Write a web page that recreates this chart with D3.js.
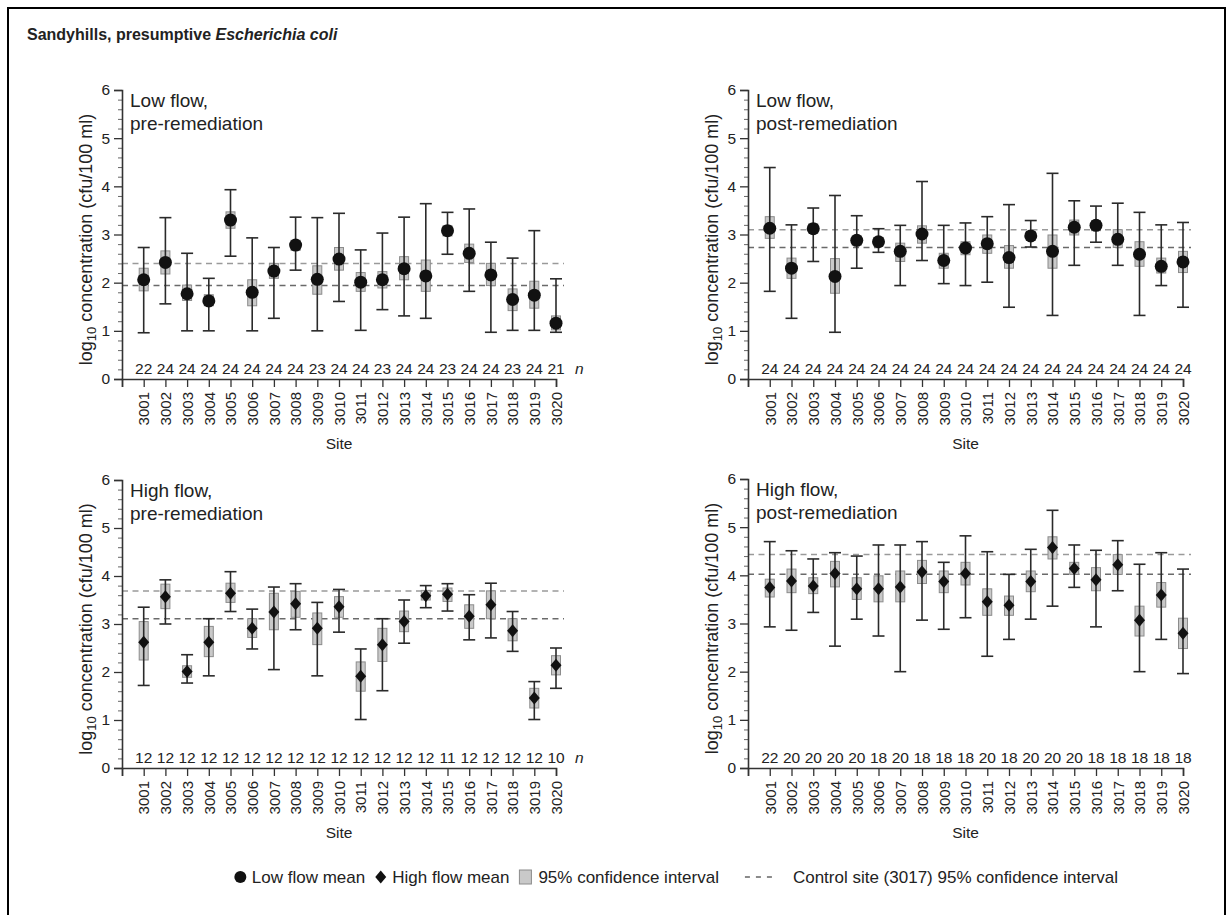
<!DOCTYPE html>
<html>
<head>
<meta charset="utf-8">
<script src="https://cdn.jsdelivr.net/npm/d3@7"></script>
<style>
  body { margin: 0; background: #fff; }
  svg text { font-family: "Liberation Sans", Arial, sans-serif; fill: #222; }
</style>
</head>
<body>
<svg id="chart" width="1231" height="915"></svg>
<script>
const sites = [3001, 3002, 3003, 3004, 3005, 3006, 3007, 3008, 3009, 3010,
               3011, 3012, 3013, 3014, 3015, 3016, 3017, 3018, 3019, 3020];
const controlSite = 3017;
const yTicks = [0, 1, 2, 3, 4, 5, 6];

// Low flow, pre-remediation
const lowPreMean = [2.06, 2.42, 1.77, 1.62, 3.30, 1.80, 2.24, 2.78, 2.07, 2.49, 2.01, 2.06, 2.29, 2.14, 3.08, 2.61, 2.16, 1.65, 1.74, 1.16];
const lowPreCiLo = [1.83, 2.18, 1.63, 1.52, 3.13, 1.52, 2.09, 2.67, 1.76, 2.26, 1.82, 1.89, 2.06, 1.82, 2.97, 2.42, 1.94, 1.42, 1.47, 1.02];
const lowPreCiHi = [2.30, 2.66, 1.95, 1.75, 3.47, 2.06, 2.40, 2.88, 2.35, 2.73, 2.21, 2.23, 2.54, 2.47, 3.18, 2.80, 2.40, 1.87, 2.03, 1.31];
const lowPreMin  = [0.96, 1.56, 1.00, 1.00, 2.55, 1.00, 1.26, 2.26, 1.00, 1.61, 1.01, 1.44, 1.31, 1.26, 2.59, 1.82, 0.97, 1.01, 1.01, 0.97];
const lowPreMax  = [2.73, 3.35, 2.61, 2.09, 3.93, 2.93, 2.73, 3.36, 3.35, 3.44, 2.68, 3.03, 3.36, 3.64, 3.46, 3.53, 2.84, 2.51, 3.08, 2.08];
const lowPreN    = [22, 24, 24, 24, 24, 24, 24, 24, 23, 24, 24, 23, 24, 24, 23, 24, 24, 23, 24, 21];

// Low flow, post-remediation
const lowPostMean = [3.13, 2.30, 3.12, 2.13, 2.88, 2.85, 2.65, 3.01, 2.46, 2.72, 2.81, 2.52, 2.97, 2.65, 3.15, 3.19, 2.90, 2.59, 2.34, 2.43];
const lowPostCiLo = [2.92, 2.09, 3.03, 1.78, 2.78, 2.76, 2.44, 2.82, 2.30, 2.58, 2.61, 2.30, 2.88, 2.30, 2.99, 3.08, 2.73, 2.34, 2.20, 2.21];
const lowPostCiHi = [3.37, 2.51, 3.22, 2.50, 2.97, 2.94, 2.82, 3.18, 2.61, 2.85, 2.99, 2.77, 3.06, 2.99, 3.30, 3.29, 3.10, 2.85, 2.51, 2.65];
const lowPostMin  = [1.82, 1.26, 2.44, 0.97, 2.30, 2.63, 1.94, 2.46, 1.98, 1.94, 2.01, 1.49, 2.74, 1.32, 2.36, 2.84, 2.36, 1.32, 1.94, 1.49];
const lowPostMax  = [4.39, 3.20, 3.55, 3.81, 3.39, 3.12, 3.19, 4.10, 3.19, 3.24, 3.37, 3.62, 3.29, 4.27, 3.70, 3.59, 3.65, 3.46, 3.20, 3.25];
const lowPostN    = [24, 24, 24, 24, 24, 24, 24, 24, 24, 24, 24, 24, 24, 24, 24, 24, 24, 24, 24, 24];

// High flow, pre-remediation
const highPreMean = [2.62, 3.57, 2.01, 2.62, 3.64, 2.91, 3.25, 3.42, 2.91, 3.36, 1.91, 2.57, 3.05, 3.59, 3.62, 3.16, 3.40, 2.86, 1.46, 2.14];
const highPreCiLo = [2.25, 3.32, 1.89, 2.32, 3.45, 2.72, 2.88, 3.14, 2.57, 3.14, 1.60, 2.22, 2.84, 3.50, 3.47, 2.91, 3.11, 2.65, 1.25, 1.94];
const highPreCiHi = [3.05, 3.83, 2.13, 2.95, 3.85, 3.11, 3.64, 3.68, 3.23, 3.57, 2.21, 2.91, 3.27, 3.70, 3.75, 3.40, 3.69, 3.11, 1.66, 2.34];
const highPreMin  = [1.72, 3.00, 1.77, 1.92, 3.26, 2.48, 2.05, 2.88, 1.92, 2.83, 1.01, 1.61, 2.60, 3.34, 3.27, 2.67, 2.71, 2.43, 1.01, 1.66];
const highPreMax  = [3.35, 3.92, 2.36, 3.11, 4.09, 3.31, 3.77, 3.84, 3.45, 3.72, 2.48, 3.11, 3.50, 3.80, 3.84, 3.61, 3.85, 3.26, 1.80, 2.50];
const highPreN    = [12, 12, 12, 12, 12, 12, 12, 12, 12, 12, 12, 12, 12, 12, 11, 12, 12, 12, 12, 10];

// High flow, post-remediation
const highPostMean = [3.75, 3.88, 3.78, 4.04, 3.72, 3.72, 3.76, 4.07, 3.87, 4.04, 3.45, 3.38, 3.87, 4.58, 4.14, 3.91, 4.22, 3.07, 3.59, 2.80];
const highPostCiLo = [3.55, 3.64, 3.62, 3.76, 3.50, 3.45, 3.45, 3.83, 3.64, 3.80, 3.17, 3.17, 3.66, 4.34, 4.02, 3.68, 4.02, 2.74, 3.34, 2.48];
const highPostCiHi = [3.92, 4.13, 3.95, 4.29, 3.95, 3.99, 4.09, 4.31, 4.09, 4.27, 3.72, 3.57, 4.09, 4.80, 4.27, 4.16, 4.43, 3.36, 3.85, 3.11];
const highPostMin  = [2.93, 2.86, 3.23, 2.53, 3.09, 2.74, 2.00, 3.07, 2.88, 3.12, 2.32, 2.67, 3.09, 3.36, 3.75, 2.93, 3.68, 2.00, 2.67, 1.96];
const highPostMax  = [4.70, 4.51, 4.34, 4.47, 4.40, 4.63, 4.63, 4.70, 4.27, 4.82, 4.49, 4.02, 4.54, 5.35, 4.63, 4.52, 4.72, 4.23, 4.47, 4.13];
const highPostN    = [22, 20, 20, 20, 20, 18, 20, 18, 18, 18, 20, 18, 20, 20, 20, 18, 18, 18, 18, 18];

const panels = [
  {title: ["Low flow,", "pre-remediation"], marker: "circle", showN: true,
   mean: lowPreMean, ciLo: lowPreCiLo, ciHi: lowPreCiHi, min: lowPreMin, max: lowPreMax, n: lowPreN,
   left: 122, right: 556, top: 90, bottom: 379},
  {title: ["Low flow,", "post-remediation"], marker: "circle", showN: false,
   mean: lowPostMean, ciLo: lowPostCiLo, ciHi: lowPostCiHi, min: lowPostMin, max: lowPostMax, n: lowPostN,
   left: 748, right: 1183, top: 90, bottom: 379},
  {title: ["High flow,", "pre-remediation"], marker: "diamond", showN: true,
   mean: highPreMean, ciLo: highPreCiLo, ciHi: highPreCiHi, min: highPreMin, max: highPreMax, n: highPreN,
   left: 122, right: 556, top: 480, bottom: 768},
  {title: ["High flow,", "post-remediation"], marker: "diamond", showN: false,
   mean: highPostMean, ciLo: highPostCiLo, ciHi: highPostCiHi, min: highPostMin, max: highPostMax, n: highPostN,
   left: 748, right: 1183, top: 479, bottom: 768}
];

const AXIS = "#333";
const WHISKER = "#2a2a2a";
const BOX_FILL = "#c9c9c9";
const BOX_STROKE = "#8c8c8c";
const LABEL_SIZE = 15.5;

const diamondPath = (cx, cy) => `M${cx},${cy - 6.5}L${cx + 5.5},${cy}L${cx},${cy + 6.5}L${cx - 5.5},${cy}Z`;

const svg = d3.select("#chart");

svg.append("rect")
  .attr("x", 8).attr("y", 8)
  .attr("width", 1217).attr("height", 930)
  .attr("fill", "none")
  .attr("stroke", "#000")
  .attr("stroke-width", 2);

svg.append("text")
  .attr("x", 27).attr("y", 40)
  .attr("font-size", 16)
  .attr("font-weight", "bold")
  .text("Sandyhills, presumptive ")
  .append("tspan")
  .attr("font-style", "italic")
  .text("Escherichia coli");

const drawPanel = p => {
  const x = d3.scaleLinear().domain([3000, 3020]).range([p.left, p.right]);
  const y = d3.scaleLinear().domain([0, 6]).range([p.bottom, p.top]);
  const g = svg.append("g");
  const rows = sites.map((s, i) => ({
    site: s, mean: p.mean[i], lo: p.ciLo[i], hi: p.ciHi[i], min: p.min[i], max: p.max[i], n: p.n[i]
  }));

  // control site CI as dashed lines
  const c = rows.find(r => r.site === controlSite);
  g.selectAll(".ctrl")
    .data([c.hi, c.lo])
    .enter().append("line")
    .attr("x1", p.left).attr("x2", p.right + 8)
    .attr("y1", d => y(d)).attr("y2", d => y(d))
    .attr("stroke", (d, i) => i ? "#6a6a6a" : "#9a9a9a")
    .attr("stroke-width", 1.5)
    .attr("stroke-dasharray", "6,4.5");

  // minor y ticks
  const minor = y.ticks(30).filter(v => Math.abs(v - Math.round(v)) > 1e-6);
  g.append("g")
    .attr("transform", `translate(${p.left},0)`)
    .call(d3.axisLeft(y).tickValues(minor).tickSize(4).tickFormat(""))
    .call(a => a.select(".domain").remove())
    .call(a => a.selectAll("line").attr("stroke", "#666"));

  const yAxis = g.append("g")
    .attr("transform", `translate(${p.left},0)`)
    .call(d3.axisLeft(y).tickValues(yTicks).tickSize(8).tickPadding(4).tickFormat(d3.format("d")));
  yAxis.select(".domain").attr("stroke", AXIS).attr("stroke-width", 1.6);
  yAxis.selectAll("line").attr("stroke", AXIS).attr("stroke-width", 1.3);
  yAxis.selectAll("text").attr("font-size", LABEL_SIZE).attr("fill", "#222");

  const xAxis = g.append("g")
    .attr("transform", `translate(0,${p.bottom})`)
    .call(d3.axisBottom(x).tickValues([3000, ...sites]).tickSize(8)
      .tickFormat(d => d === 3000 ? "" : d));
  xAxis.select(".domain").attr("stroke", AXIS).attr("stroke-width", 1.6);
  xAxis.selectAll("line").attr("stroke", AXIS).attr("stroke-width", 1.3);
  xAxis.selectAll("text")
    .attr("font-size", 15)
    .attr("fill", "#222")
    .attr("transform", "rotate(-90)")
    .attr("text-anchor", "end")
    .attr("x", -13)
    .attr("y", 0)
    .attr("dy", "0.35em");

  g.append("text")
    .attr("x", (p.left + p.right) / 2)
    .attr("y", p.bottom + 70)
    .attr("text-anchor", "middle")
    .attr("font-size", LABEL_SIZE)
    .text("Site");

  const yl = g.append("text")
    .attr("transform", `translate(${p.left - 30},${(p.top + p.bottom) / 2 + 5}) rotate(-90)`)
    .attr("text-anchor", "middle")
    .attr("font-size", 18);
  yl.append("tspan").text("log");
  yl.append("tspan").attr("font-size", 13).attr("dy", 4).text("10");
  yl.append("tspan").attr("dy", -4).text(" concentration (cfu/100 ml)");

  p.title.forEach((t, i) => {
    g.append("text")
      .attr("x", p.left + 8)
      .attr("y", p.top + 17 + i * 23)
      .attr("font-size", 19)
      .text(t);
  });

  // n values
  g.selectAll(".nval")
    .data(rows)
    .enter().append("text")
    .attr("x", d => x(d.site))
    .attr("y", p.bottom - 5)
    .attr("text-anchor", "middle")
    .attr("font-size", LABEL_SIZE)
    .text(d => d.n);
  if (p.showN) {
    g.append("text")
      .attr("x", p.right + 19)
      .attr("y", p.bottom - 5)
      .attr("font-size", LABEL_SIZE)
      .attr("font-style", "italic")
      .text("n");
  }

  // CI boxes
  g.selectAll(".ci")
    .data(rows)
    .enter().append("rect")
    .attr("x", d => x(d.site) - 4.5)
    .attr("width", 9)
    .attr("y", d => y(d.hi))
    .attr("height", d => y(d.lo) - y(d.hi))
    .attr("fill", BOX_FILL)
    .attr("stroke", BOX_STROKE)
    .attr("stroke-width", 1);

  // whiskers
  const w = g.selectAll(".wh").data(rows).enter().append("g");
  w.append("line")
    .attr("x1", d => x(d.site)).attr("x2", d => x(d.site))
    .attr("y1", d => y(d.max)).attr("y2", d => y(d.min))
    .attr("stroke", WHISKER).attr("stroke-width", 1.6);
  w.selectAll(".cap")
    .data(d => [d.max, d.min].map(v => ({site: d.site, v})))
    .enter().append("line")
    .attr("x1", d => x(d.site) - 6).attr("x2", d => x(d.site) + 6)
    .attr("y1", d => y(d.v)).attr("y2", d => y(d.v))
    .attr("stroke", WHISKER).attr("stroke-width", 1.6);

  // means
  if (p.marker === "circle") {
    g.selectAll(".mean")
      .data(rows)
      .enter().append("circle")
      .attr("cx", d => x(d.site))
      .attr("cy", d => y(d.mean))
      .attr("r", 6.5)
      .attr("fill", "#111");
  } else {
    g.selectAll(".mean")
      .data(rows)
      .enter().append("path")
      .attr("d", d => diamondPath(x(d.site), y(d.mean)))
      .attr("fill", "#111");
  }
};

panels.forEach(drawPanel);

// legend, laid out left to right then shifted so it ends where the reference does
const LEGEND_SIZE = 17;
const legend = svg.append("g");
let lx = 0;
const legendText = (str, gap) => {
  const t = legend.append("text").attr("x", lx).attr("y", 6).attr("font-size", LEGEND_SIZE).text(str);
  lx += t.node().getComputedTextLength() + gap;
};
legend.append("circle").attr("cx", lx + 5.5).attr("cy", 0).attr("r", 6).attr("fill", "#111");
lx += 17;
legendText("Low flow mean", 10);
legend.append("path").attr("d", diamondPath(lx + 5.5, 0)).attr("fill", "#111");
lx += 17;
legendText("High flow mean", 10);
legend.append("rect").attr("x", lx).attr("y", -7).attr("width", 12).attr("height", 14)
  .attr("fill", BOX_FILL).attr("stroke", BOX_STROKE);
lx += 19;
legendText("95% confidence interval", 26);
legend.append("line").attr("x1", lx).attr("x2", lx + 28).attr("y1", 0).attr("y2", 0)
  .attr("stroke", "#666").attr("stroke-width", 1.4).attr("stroke-dasharray", "5,6");
lx += 48;
legendText("Control site (3017) 95% confidence interval", 0);
legend.attr("transform", `translate(${1118 - lx},877)`);
</script>
</body>
</html>
